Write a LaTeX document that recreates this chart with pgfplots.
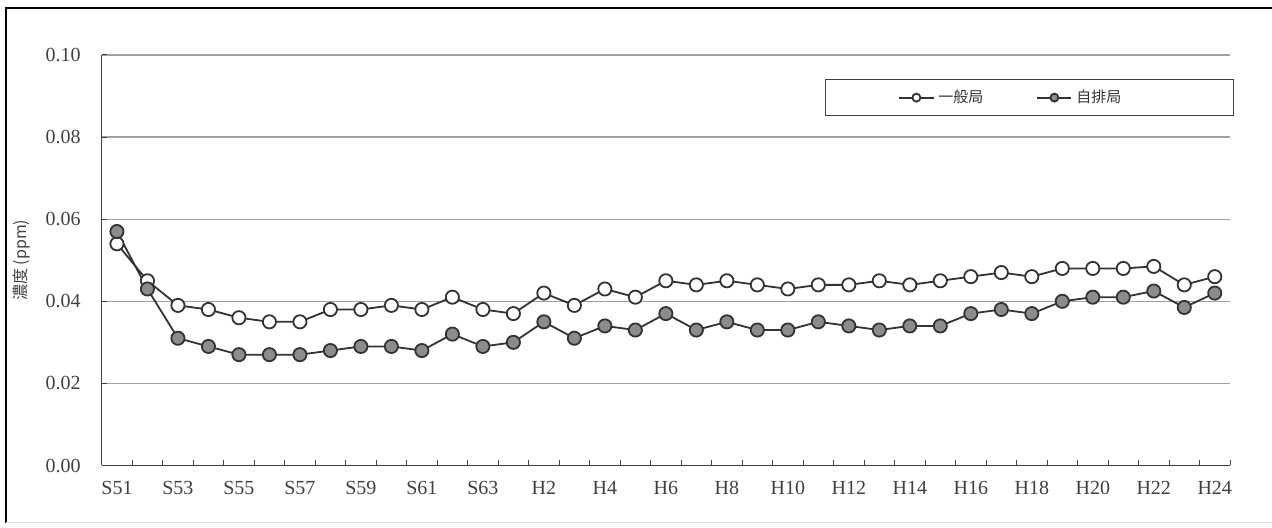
\documentclass[border=0pt]{standalone}
\usepackage{fontspec}
\setmainfont{Liberation Serif}
\newfontfamily\jp{Noto Sans CJK JP}
\usepackage{pgfplots}
\pgfplotsset{compat=1.18}
\usepackage{pgfplotstable}

\definecolor{lineclr}{HTML}{333333}
\definecolor{fillclr}{HTML}{8C8C8C}
\definecolor{gridclr}{HTML}{A0A0A0}

% x: 0 = S51 ... 12 = S63, 13 = H1 ... 36 = H24
\pgfplotstableread{
x  ippan  jihai
0  0.054  0.057
1  0.045  0.043
2  0.039  0.031
3  0.038  0.029
4  0.036  0.027
5  0.035  0.027
6  0.035  0.027
7  0.038  0.028
8  0.038  0.029
9  0.039  0.029
10 0.038  0.028
11 0.041  0.032
12 0.038  0.029
13 0.037  0.030
14 0.042  0.035
15 0.039  0.031
16 0.043  0.034
17 0.041  0.033
18 0.045  0.037
19 0.044  0.033
20 0.045  0.035
21 0.044  0.033
22 0.043  0.033
23 0.044  0.035
24 0.044  0.034
25 0.045  0.033
26 0.044  0.034
27 0.045  0.034
28 0.046  0.037
29 0.047  0.038
30 0.046  0.037
31 0.048  0.040
32 0.048  0.041
33 0.048  0.041
34 0.0485 0.0425
35 0.044  0.0385
36 0.046  0.042
}\conc

\begin{document}
\begin{tikzpicture}
\useasboundingbox (-50.85pt,-31.25pt) rectangle (585.15pt,232.75pt);
% frame: dark on top and left, faint at the bottom
\draw[line width=1pt] (-47.85pt,-28.75pt) -- (-47.85pt,228.75pt) -- (585.15pt,228.75pt);
\draw[line width=0.5pt, black!12] (-47.85pt,-28.75pt) -- (585.15pt,-28.75pt);
\begin{axis}[
  scale only axis,
  width=564.15pt, height=205.25pt,
  at={(0,0)}, anchor=south west,
  xmin=-0.5, xmax=36.5,
  ymin=0, ymax=0.1,
  axis lines*=left,
  axis line style={draw=black!75, line width=0.6pt},
  tick align=inside,
  xtick={0,2,...,36},
  xticklabels={S51,S53,S55,S57,S59,S61,S63,H2,H4,H6,H8,H10,H12,H14,H16,H18,H20,H22,H24},
  minor xtick={-0.5,0.5,...,36.5},
  major x tick style={draw=none},
  minor x tick style={draw=black!75, line width=0.5pt},
  minor tick length=2.5pt,
  ytick={0,0.02,0.04,0.06,0.08,0.1},
  yticklabels={0.00,0.02,0.04,0.06,0.08,0.10},
  major y tick style={draw=black!75, line width=0.5pt},
  major tick length=2.5pt,
  ymajorgrids,
  grid style={draw=gridclr, line width=0.6pt},
  ticklabel style={font=\fontsize{10}{10}\selectfont, text=black!75},
  yticklabel style={xshift=-7pt},
  xticklabel style={yshift=-4.5pt},
  ylabel={\jp 濃度 (ppm)},
  every axis y label/.style={at={(axis description cs:-0.0709,0.5)}, rotate=90,
    anchor=center, font=\fontsize{8}{8}\selectfont, text=black!75},
  legend columns=2,
  legend style={at={(axis description cs:1.0035,0.941)}, anchor=north east,
    draw=black!75, line width=0.6pt, font=\jp\fontsize{7.5}{8}\selectfont,
    text=black!80, inner xsep=36.5pt, inner ysep=3pt,
    /tikz/every even column/.append style={column sep=24.5pt}},
  legend image post style={mark size=2pt},
]
\addplot[color=lineclr, line width=0.9pt, mark=*, mark size=3.3pt,
  mark options={fill=white, draw=lineclr, line width=0.9pt}]
  table[x=x, y=ippan]{\conc};
\addlegendentry{一般局}
\addplot[color=lineclr, line width=0.9pt, mark=*, mark size=3.3pt,
  mark options={fill=fillclr, draw=lineclr, line width=0.9pt}]
  table[x=x, y=jihai]{\conc};
\addlegendentry{自排局\hspace*{17.5pt}}
\end{axis}
\end{tikzpicture}
\end{document}
